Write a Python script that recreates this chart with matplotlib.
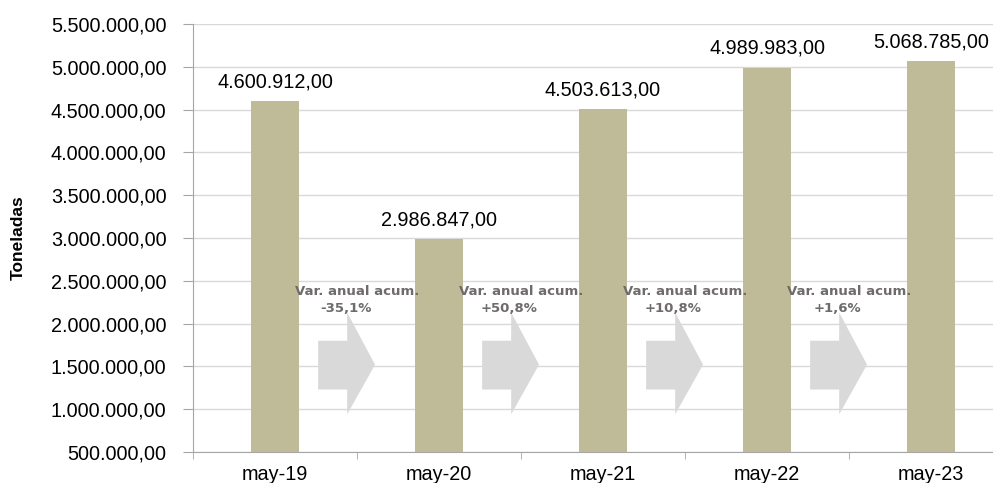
import numpy as np
import matplotlib.pyplot as plt
from matplotlib.patches import Polygon

# Datos del gráfico
meses = ['may-19', 'may-20', 'may-21', 'may-22', 'may-23']
toneladas = [4600912.00, 2986847.00, 4503613.00, 4989983.00, 5068785.00]
variaciones = ['-35,1%', '+50,8%', '+10,8%', '+1,6%']

plt.rcParams['font.family'] = ['Liberation Sans', 'DejaVu Sans']


def formato_es(v):
    s = f'{v:,.2f}'
    return s.replace(',', 'X').replace('.', ',').replace('X', '.')


fig = plt.figure(figsize=(9.93, 4.83), dpi=100)
# el eje se sale un poco por la derecha, como en la imagen original
ax = fig.add_axes([193 / 993, 31 / 483, 820 / 993, 428 / 483])

x = np.arange(len(meses))
ax.bar(x, toneladas, width=0.29, color='#bfbb98', zorder=3)

for xi, v in zip(x, toneladas):
    ax.annotate(formato_es(v), (xi, v), xytext=(0, 7), textcoords='offset points',
                ha='center', va='bottom', fontsize=14.3, color='black')

# flechas grises con la variación anual
for i, txt in enumerate(variaciones):
    b = i + 0.5
    flecha = Polygon([(b - 0.237, 1.23e6), (b - 0.06, 1.23e6), (b - 0.06, 0.94e6),
                      (b + 0.11, 1.52e6), (b - 0.06, 2.13e6), (b - 0.06, 1.80e6),
                      (b - 0.237, 1.80e6)],
                     closed=True, facecolor='#d9d9d9', edgecolor='none', zorder=2)
    ax.add_patch(flecha)
    ax.text(b, 2.37e6, 'Var. anual acum.', ha='center', va='center',
            fontsize=9.5, fontweight='bold', color='#6f6b6b', family='DejaVu Sans', zorder=4)
    ax.text(b - 0.07, 2.18e6, txt, ha='center', va='center',
            fontsize=9.5, fontweight='bold', color='#6f6b6b', family='DejaVu Sans', zorder=4)

ax.set_xlim(-0.5, len(meses) - 0.5)
ax.set_ylim(500000, 5500000)
ax.set_yticks(np.arange(500000, 5500001, 500000))
ax.set_yticklabels([formato_es(t) for t in np.arange(500000, 5500001, 500000)], fontsize=14.3)
ax.set_xticks(x)
ax.set_xticklabels(meses, fontsize=14.3)
ax.set_xticks(np.arange(-0.5, len(meses)), minor=True)
ax.tick_params(axis='x', which='major', length=0, pad=9)
ax.tick_params(axis='x', which='minor', length=5, color='#a6a6a6')
ax.tick_params(axis='y', length=7, color='#a6a6a6', pad=12)

ax.grid(axis='y', color='#d9d9d9', linewidth=1, zorder=0)
for lado in ['top', 'right']:
    ax.spines[lado].set_visible(False)
for lado in ['left', 'bottom']:
    ax.spines[lado].set_color('#a6a6a6')

ax.set_ylabel('Toneladas', fontsize=12.5, fontweight='bold', labelpad=18)

fig.savefig('out.png', dpi=100)
